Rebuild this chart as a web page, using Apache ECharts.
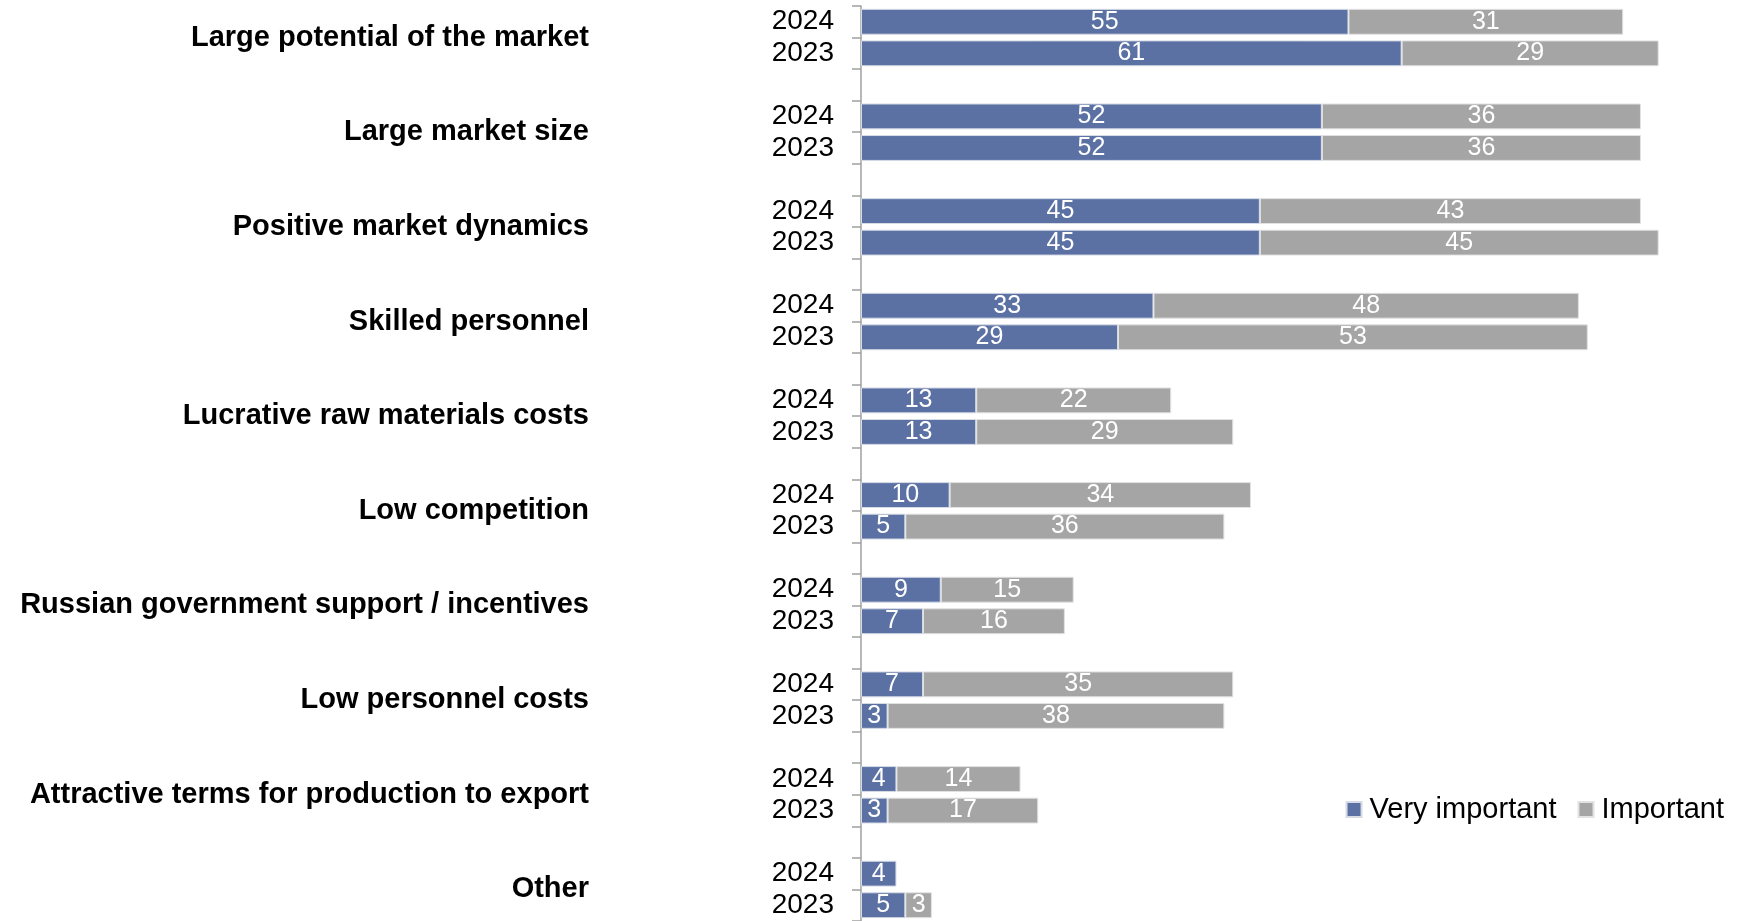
<!DOCTYPE html>
<html>
<head>
<meta charset="utf-8">
<script src="https://cdn.jsdelivr.net/npm/echarts@6/dist/echarts.min.js"></script>
<style>
  html, body { margin: 0; padding: 0; background: #fff; }
  #chart { width: 1740px; height: 921px; }
</style>
</head>
<body>
<div id="chart"></div>
<script>
// Investment factors, share of respondents (%), two survey years per factor
const factors = [
  'Large potential of the market',
  'Large market size',
  'Positive market dynamics',
  'Skilled personnel',
  'Lucrative raw materials costs',
  'Low competition',
  'Russian government support / incentives',
  'Low personnel costs',
  'Attractive terms for production to export',
  'Other'
];
const years = ['2024', '2023'];

const veryImportant2024 = [55, 52, 45, 33, 13, 10, 9, 7, 4, 4];
const important2024     = [31, 36, 43, 48, 22, 34, 15, 35, 14, null];
const veryImportant2023 = [61, 52, 45, 29, 13, 5, 7, 3, 3, 5];
const important2023     = [29, 36, 45, 53, 29, 36, 16, 38, 17, 3];

const seriesNames = ['Very important', 'Important'];
const colors = ['#5B71A3', '#A5A5A5'];

// Rows: 2024, 2023, then an empty spacer row between factor groups
const rowLabels = [];
const rowVery = [];
const rowImp = [];
factors.forEach((f, i) => {
  rowLabels.push(years[0]);
  rowVery.push(veryImportant2024[i]);
  rowImp.push(important2024[i]);
  rowLabels.push(years[1]);
  rowVery.push(veryImportant2023[i]);
  rowImp.push(important2023[i]);
  if (i < factors.length - 1) {
    rowLabels.push('');
    rowVery.push(null);
    rowImp.push(null);
  }
});

// Factor labels sit on the edge between a group's two rows:
// a point axis at half-row resolution puts point 2 on that edge
const factorPoints = [];
for (let k = 0; k <= rowLabels.length * 2; k++) factorPoints.push('');
factors.forEach((f, i) => { factorPoints[i * 6 + 2] = f; });

const chart = echarts.init(document.getElementById('chart'), null, { renderer: 'canvas' });

const font = 'Liberation Sans, Arial, sans-serif';

const labelStyle = {
  show: true,
  position: 'inside',
  color: '#ffffff',
  fontFamily: font,
  fontSize: 25,
  formatter: p => (p.value == null ? '' : p.value)
};

chart.setOption({
  animation: false,
  backgroundColor: '#ffffff',
  grid: { left: 861, top: 6, width: 842, height: 916.5, containLabel: false },
  legend: {
    show: true,
    right: 11,
    top: 790,
    itemWidth: 15,
    itemHeight: 15,
    itemGap: 21,
    icon: 'rect',
    textStyle: {
      fontFamily: font,
      fontSize: 29,
      color: '#000000',
      padding: [0, 0, 0, 3]
    },
    data: seriesNames
  },
  xAxis: {
    type: 'value',
    min: 0,
    max: 95,
    show: false
  },
  yAxis: [
    {
      type: 'category',
      inverse: true,
      data: rowLabels,
      axisLine: { show: true, lineStyle: { color: '#A0A0A0', width: 1.5 } },
      axisTick: { show: true, interval: 0, length: 9, lineStyle: { color: '#A0A0A0', width: 1.5 } },
      axisLabel: {
        interval: 0,
        margin: 27,
        color: '#000000',
        fontFamily: font,
        fontSize: 28
      }
    },
    {
      type: 'category',
      inverse: true,
      position: 'left',
      boundaryGap: false,
      data: factorPoints,
      axisLine: { show: false },
      axisTick: { show: false },
      axisLabel: {
        interval: 0,
        margin: 272,
        color: '#000000',
        fontFamily: font,
        fontWeight: 'bold',
        fontSize: 29,
        padding: [4, 0, 0, 0]
      }
    }
  ],
  series: [
    {
      name: seriesNames[0],
      type: 'bar',
      stack: 'total',
      yAxisIndex: 0,
      barWidth: '82%',
      data: rowVery,
      itemStyle: { color: colors[0], borderColor: '#D6DBE6', borderWidth: 1 },
      label: labelStyle
    },
    {
      name: seriesNames[1],
      type: 'bar',
      stack: 'total',
      yAxisIndex: 0,
      barWidth: '82%',
      data: rowImp,
      itemStyle: { color: colors[1], borderColor: '#E2E2E2', borderWidth: 1 },
      label: labelStyle
    }
  ]
});
</script>
</body>
</html>
